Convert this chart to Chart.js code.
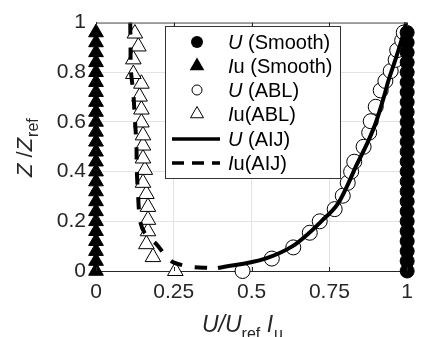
<!DOCTYPE html>
<html>
<head>
<meta charset="utf-8">
<script src="https://cdn.jsdelivr.net/npm/chart.js@4/dist/chart.umd.min.js"></script>
<style>
  html, body { margin: 0; padding: 0; background: #fff; }
  #wrap { width: 422px; height: 337px; }
</style>
</head>
<body>
<div id="wrap"><canvas id="perfilChart"></canvas></div>
<script>
// alturas e valores
const zSmooth = [0, 0.04, 0.08, 0.12, 0.16, 0.2, 0.24, 0.28, 0.32, 0.36, 0.4, 0.44, 0.48,
                 0.52, 0.56, 0.6, 0.64, 0.68, 0.72, 0.76, 0.8, 0.84, 0.88, 0.92, 0.96];
const uSmooth = [1, 1, 1, 1, 1, 1, 1, 1, 1, 1, 1, 1, 1, 1, 1, 1, 1, 1, 1, 1, 1, 1, 1, 1, 1];
const iuSmooth = [0, 0, 0, 0, 0, 0, 0, 0, 0, 0, 0, 0, 0, 0, 0, 0, 0, 0, 0, 0, 0, 0, 0, 0, 0];

const zUabl = [0, 0.05, 0.095, 0.154, 0.2, 0.249, 0.303, 0.355, 0.4, 0.44, 0.5, 0.557,
               0.603, 0.661, 0.727, 0.765, 0.805, 0.85, 0.889, 0.928, 0.96];
const uAbl = [0.471, 0.565, 0.634, 0.687, 0.719, 0.767, 0.793, 0.809, 0.82, 0.83, 0.86, 0.878,
              0.883, 0.899, 0.915, 0.93, 0.947, 0.963, 0.968, 0.984, 0.989];

const zIuabl = [0, 0.056, 0.108, 0.16, 0.206, 0.258, 0.31, 0.355, 0.407, 0.453, 0.505,
                0.546, 0.598, 0.65, 0.702, 0.754, 0.793, 0.852, 0.904, 0.956];
const iuAbl = [0.255, 0.183, 0.162, 0.167, 0.167, 0.167, 0.162, 0.151, 0.157, 0.151, 0.151,
               0.151, 0.146, 0.146, 0.14, 0.146, 0.12, 0.12, 0.136, 0.125];

const zUaij = [0.012, 0.05, 0.1, 0.15, 0.2, 0.27, 0.35, 0.42, 0.518, 0.6, 0.7, 0.759, 0.85, 0.93, 1.0];
const uAij = [0.392, 0.544, 0.632, 0.682, 0.724, 0.777, 0.81, 0.835, 0.873, 0.9, 0.925, 0.938, 0.962, 0.982, 0.997];

const zIuaij = [1.0, 0.909, 0.81, 0.714, 0.61, 0.505, 0.41, 0.31, 0.2, 0.15, 0.108, 0.06, 0.036, 0.018, 0.012];
const iuAij = [0.11, 0.111, 0.112, 0.12, 0.125, 0.13, 0.131, 0.135, 0.142, 0.158, 0.194, 0.225, 0.247, 0.3, 0.37];

const legendas = ["U (Smooth)", "Iu (Smooth)", "U (ABL)", "Iu(ABL)", "U (AIJ)", "Iu(AIJ)"];
const ticksX = [0, 0.25, 0.5, 0.75, 1];
const ticksY = [0, 0.2, 0.4, 0.6, 0.8, 1];

const fonte = "'Liberation Sans', Arial, Helvetica, sans-serif";
const cinza = "#262626";

function pares(xs, zs) {
  return xs.map((x, i) => ({ x: x, y: zs[i] }));
}

// legenda, titulos dos eixos e moldura
const extras = {
  id: "extras",
  afterDraw(chart) {
    const ctx = chart.ctx;
    const a = chart.chartArea;
    const sx = chart.scales.x;
    ctx.save();

    // moldura superior
    ctx.strokeStyle = "#555";
    ctx.lineWidth = 1;
    ctx.beginPath();
    ctx.moveTo(a.left, a.top + 0.5);
    ctx.lineTo(a.right, a.top + 0.5);
    ctx.stroke();

    // marcas internas
    ctx.strokeStyle = cinza;
    ticksX.forEach(t => {
      const px = Math.round(sx.getPixelForValue(t)) + 0.5;
      ctx.beginPath();
      ctx.moveTo(px, a.top); ctx.lineTo(px, a.top + 4);
      ctx.moveTo(px, a.bottom); ctx.lineTo(px, a.bottom - 4);
      ctx.stroke();
    });

    // caixa da legenda
    const bx = 165, by = 26, bw = 175, bh = 152;
    ctx.fillStyle = "#fff";
    ctx.fillRect(bx, by, bw, bh);
    ctx.strokeStyle = "#333";
    ctx.strokeRect(bx + 0.5, by + 0.5, bw, bh);

    const linhas = [42, 66, 90, 114, 139, 163];
    const mx = 197;
    linhas.forEach((ly, i) => {
      ctx.fillStyle = "#000";
      ctx.strokeStyle = "#000";
      ctx.lineWidth = 1;
      ctx.setLineDash([]);
      if (i === 0) {
        ctx.beginPath(); ctx.arc(mx, ly, 6, 0, Math.PI * 2); ctx.fill();
      } else if (i === 1) {
        triangulo(ctx, mx, ly, 8.5); ctx.fill();
      } else if (i === 2) {
        ctx.beginPath(); ctx.arc(mx, ly, 5, 0, Math.PI * 2);
        ctx.fillStyle = "#fff"; ctx.fill(); ctx.stroke();
      } else if (i === 3) {
        triangulo(ctx, mx, ly, 7.5);
        ctx.fillStyle = "#fff"; ctx.fill(); ctx.stroke();
      } else {
        ctx.lineWidth = 3.5;
        if (i === 5) ctx.setLineDash([12, 8]);
        ctx.beginPath(); ctx.moveTo(172, ly); ctx.lineTo(220, ly); ctx.stroke();
      }
      ctx.setLineDash([]);
      ctx.fillStyle = "#000";
      ctx.textBaseline = "middle";
      const txt = legendas[i];
      ctx.font = "italic 20px " + fonte;
      ctx.fillText(txt[0], 228, ly + 1);
      const w = ctx.measureText(txt[0]).width;
      ctx.font = "20px " + fonte;
      ctx.fillText(txt.slice(1), 228 + w, ly + 1);
    });

    // titulo eixo x: U/U_ref I_u
    ctx.fillStyle = cinza;
    ctx.textBaseline = "alphabetic";
    let x0 = 202;
    const base = 332;
    x0 = pedaco(ctx, "U/U", "italic 23px ", x0, base);
    x0 = pedaco(ctx, "ref", "16px ", x0, base + 7);
    x0 = pedaco(ctx, " ", "23px ", x0, base);
    x0 = pedaco(ctx, "I", "italic 23px ", x0, base);
    pedaco(ctx, "u", "16px ", x0 + 1, base + 7);

    // titulo eixo y: Z /Z_ref
    ctx.save();
    ctx.translate(32, 177);
    ctx.rotate(-Math.PI / 2);
    let y0 = 0;
    y0 = pedaco(ctx, "Z", "italic 22px ", y0, 0);
    y0 = pedaco(ctx, " /", "22px ", y0, 0);
    y0 = pedaco(ctx, "Z", "italic 22px ", y0, 0);
    pedaco(ctx, "ref", "16px ", y0 + 1, 6);
    ctx.restore();

    ctx.restore();
  }
};

function triangulo(ctx, x, y, r) {
  ctx.beginPath();
  ctx.moveTo(x, y - r);
  ctx.lineTo(x + r * 0.866, y + r * 0.5);
  ctx.lineTo(x - r * 0.866, y + r * 0.5);
  ctx.closePath();
}

function pedaco(ctx, s, estilo, x, y) {
  ctx.font = estilo + fonte;
  ctx.fillText(s, x, y);
  return x + ctx.measureText(s).width;
}

const ctx = document.getElementById("perfilChart").getContext("2d");
new Chart(ctx, {
  type: "scatter",
  data: {
    datasets: [
      {
        label: legendas[0], data: pares(uSmooth, zSmooth), order: 2, clip: false,
        pointStyle: "circle", pointRadius: 7, backgroundColor: "#000", borderColor: "#000", borderWidth: 1
      },
      {
        label: legendas[1], data: pares(iuSmooth, zSmooth), order: 2, clip: false,
        pointStyle: "triangle", pointRadius: 8.5, backgroundColor: "#000", borderColor: "#000", borderWidth: 1
      },
      {
        label: legendas[2], data: pares(uAbl, zUabl), order: 2, clip: false,
        pointStyle: "circle", pointRadius: 7.5, backgroundColor: "#fff", borderColor: "#000", borderWidth: 1
      },
      {
        label: legendas[3], data: pares(iuAbl, zIuabl), order: 2, clip: false,
        pointStyle: "triangle", pointRadius: 9, backgroundColor: "#fff", borderColor: "#000", borderWidth: 1
      },
      {
        label: legendas[4], data: pares(uAij, zUaij), order: 0, clip: false,
        showLine: true, pointRadius: 0, borderColor: "#000", borderWidth: 4,
        cubicInterpolationMode: "monotone"
      },
      {
        label: legendas[5], data: pares(iuAij, zIuaij), order: 0, clip: false,
        showLine: true, pointRadius: 0, borderColor: "#000", borderWidth: 4, tension: 0.3,
        borderDash: [12, 13]
      }
    ]
  },
  options: {
    responsive: true,
    maintainAspectRatio: false,
    animation: false,
    layout: { padding: { left: 0, right: 12, top: 15, bottom: 0 } },
    plugins: {
      legend: { display: false },
      tooltip: { enabled: false }
    },
    scales: {
      x: {
        type: "linear", min: 0, max: 1,
        afterFit(s) { s.height = 66; },
        afterBuildTicks(s) { s.ticks = ticksX.map(v => ({ value: v })); },
        grid: { color: "#e3e3e3", drawTicks: false },
        border: { display: true, color: cinza, width: 1 },
        ticks: {
          padding: 9, color: cinza, font: { family: fonte, size: 21 },
          callback: v => String(v)
        }
      },
      y: {
        type: "linear", min: 0, max: 1,
        afterFit(s) { s.width = 96; },
        afterBuildTicks(s) { s.ticks = ticksY.map(v => ({ value: v })); },
        grid: { color: "#e3e3e3", drawTicks: false },
        border: { display: true, color: cinza, width: 1 },
        ticks: {
          padding: 10, color: cinza, font: { family: fonte, size: 21 },
          callback: v => String(v)
        }
      }
    }
  },
  plugins: [extras]
});
</script>
</body>
</html>
